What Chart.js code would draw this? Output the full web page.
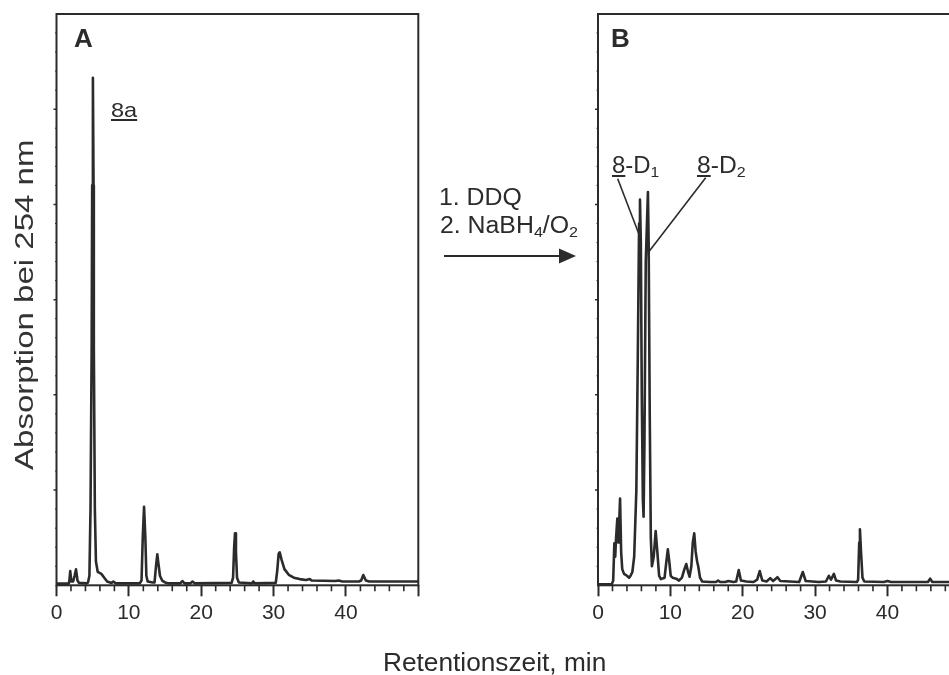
<!DOCTYPE html>
<html>
<head>
<meta charset="utf-8">
<script src="https://cdn.jsdelivr.net/npm/chart.js@4.4.0/dist/chart.umd.min.js"></script>
<style>
  html, body { margin: 0; padding: 0; background: #fff; }
  body { width: 949px; height: 675px; overflow: hidden; position: relative;
         font-family: "Liberation Sans", Arial, sans-serif; color: #2b2b2b; }
  canvas { position: absolute; top: 0; }
  #chartA { left: 0; }
  #chartB { left: 440px; }
  .lbl { position: absolute; white-space: nowrap; line-height: 1; transform-origin: 0 0; }
  .panel { font-weight: bold; font-size: 26px; }
  .u { text-decoration: underline; text-decoration-thickness: 1.5px; text-underline-offset: 2px; }
  sub { font-size: 65%; vertical-align: -0.25em; line-height: 0; }
  #arrow { position: absolute; left: 0; top: 0; pointer-events: none; }
</style>
</head>
<body>
<canvas id="chartA" width="470" height="675"></canvas>
<canvas id="chartB" width="580" height="675"></canvas>

<svg id="arrow" width="949" height="675">
  <line x1="444" y1="256" x2="562" y2="256" stroke="#2b2b2b" stroke-width="2"/>
  <polygon points="559,248.5 576,256 559,263.5" fill="#2b2b2b"/>
</svg>

<div class="lbl panel" style="left:74px;top:25px;">A</div>
<div class="lbl panel" style="left:611px;top:25px;">B</div>
<div class="lbl" style="left:111px;top:99px;font-size:21px;transform:scaleX(1.12);"><span class="u">8a</span></div>
<div class="lbl" style="left:612px;top:154px;font-size:23px;transform:scaleX(1.04);"><span class="u">8</span>-D<sub>1</sub></div>
<div class="lbl" style="left:697px;top:154px;font-size:23px;transform:scaleX(1.07);"><span class="u">8</span>-D<sub>2</sub></div>
<div class="lbl" style="left:439px;top:186px;font-size:23px;transform:scaleX(1.08);">1. DDQ</div>
<div class="lbl" style="left:440px;top:214px;font-size:23px;transform:scaleX(1.08);">2. NaBH<sub>4</sub>/O<sub>2</sub></div>
<div class="lbl" style="left:383px;top:650px;font-size:25px;transform:scaleX(1.05);">Retentionszeit, min</div>
<div class="lbl" style="left:11px;top:470px;font-size:26px;color:#333;transform:rotate(-90deg) scaleX(1.27);">Absorption bei 254 nm</div>

<script>
// HPLC-Chromatogramme: Retentionszeit (min) / Absorption (willk. Einheiten)
const INK = "#2b2b2b";

// A: Ausgangsverbindung 8a
const timeA = [0, 1.7, 1.78, 1.9, 2.05, 2.3, 2.5, 2.7, 2.9, 3.1, 4.2,
  4.35, 4.55, 4.7, 4.86, 4.93, 5.03, 5.12, 5.16, 5.3, 5.45, 5.7, 6.2, 6.6, 7.0, 7.6, 7.85, 8.2,
  11.5, 11.75, 11.92, 12.1, 12.28, 12.42, 12.6, 13.3,
  13.55, 13.75, 13.93, 14.1, 14.3, 14.6, 15.0, 15.5,
  17.1, 17.4, 17.7, 18.5, 18.8, 19.1,
  24.2, 24.4, 24.55, 24.67, 24.8, 24.95, 25.2,
  27.0, 27.2, 27.4,
  30.3, 30.5, 30.7, 30.85, 31.1, 31.5, 32.1, 32.8, 33.6, 34.5, 35.0, 35.3,
  38.5, 39.0, 39.5, 41.8, 42.1, 42.4, 42.75, 43.2, 50];
const absA = [0.018, 0.018, 0.05, 0.15, 0.04, 0.04, 0.1, 0.168, 0.05, 0.025, 0.02,
  0.03, 0.1, 0.8, 2.5, 4.2, 5.33, 4.2, 2.5, 0.8, 0.25, 0.14, 0.12, 0.08, 0.04, 0.025, 0.04, 0.02,
  0.02, 0.05, 0.5, 0.825, 0.5, 0.1, 0.04, 0.03,
  0.03, 0.2, 0.325, 0.22, 0.1, 0.05, 0.03, 0.02,
  0.02, 0.045, 0.02, 0.02, 0.04, 0.02,
  0.025, 0.08, 0.4, 0.546, 0.35, 0.08, 0.03,
  0.02, 0.04, 0.02,
  0.025, 0.15, 0.33, 0.346, 0.27, 0.17, 0.11, 0.08, 0.065, 0.055, 0.065, 0.05,
  0.045, 0.05, 0.04, 0.04, 0.05, 0.108, 0.05, 0.04, 0.04];

// B: nach 1. DDQ, 2. NaBH4/O2
const timeB = [0, 1.9, 2.1, 2.26, 2.38, 2.5, 2.67, 2.8, 2.9, 3.05, 3.2, 3.35, 3.6, 4.0, 4.3, 4.5,
  4.75, 5.0, 5.3, 5.5, 5.68, 5.8, 5.92, 6.05, 6.2, 6.3,
  6.42, 6.6, 6.9, 7.0, 7.15, 7.3, 7.45,
  7.7, 7.97, 8.2, 8.45, 8.7, 9.2, 9.45, 9.65, 9.85, 10.05, 10.3, 10.8, 11.2, 11.6,
  11.9, 12.2, 12.45, 12.65, 12.9, 13.1, 13.3, 13.5, 13.7, 13.85, 14.1, 14.4,
  15.5, 16.3, 16.6, 16.9, 17.6, 18.0, 18.7,
  19.1, 19.45, 19.75, 20.5, 21.5, 22.0, 22.35, 22.7, 23.3, 23.8, 24.2, 24.8, 25.2, 27.8,
  28.3, 28.7, 30.5, 31.5, 31.9, 32.2, 32.6, 32.9, 33.5, 35.8,
  35.95, 36.1, 36.2, 36.35, 36.55, 36.8, 39.5, 40.0, 40.5, 45.6, 45.9, 46.2, 50];
const absB = [0.01, 0.01, 0.05, 0.44, 0.3, 0.5, 0.7, 0.45, 0.6, 0.91, 0.35, 0.17, 0.12, 0.1, 0.08, 0.1,
  0.14, 0.3, 1.0, 2.4, 3.8, 4.05, 3.6, 2.0, 0.9, 0.72,
  1.5, 3.4, 4.13, 3.6, 1.8, 0.5, 0.2,
  0.3, 0.57, 0.35, 0.1, 0.065, 0.08, 0.25, 0.378, 0.25, 0.1, 0.08, 0.07, 0.05, 0.08,
  0.16, 0.224, 0.14, 0.09, 0.2, 0.45, 0.546, 0.35, 0.25, 0.2, 0.08, 0.04,
  0.035, 0.035, 0.05, 0.035, 0.035, 0.045, 0.035,
  0.04, 0.16, 0.05, 0.04, 0.035, 0.06, 0.15, 0.05, 0.04, 0.075, 0.045, 0.085, 0.045, 0.035,
  0.14, 0.045, 0.035, 0.04, 0.1, 0.06, 0.12, 0.05, 0.04, 0.035,
  0.06, 0.45, 0.588, 0.35, 0.08, 0.04, 0.035, 0.045, 0.035, 0.035, 0.07, 0.035, 0.035];

const xMajorTicks = [0, 10, 20, 30, 40, 50];
const xMinorTicks = [2, 4, 6, 8, 12, 14, 16, 18, 22, 24, 26, 28, 32, 34, 36, 38, 42, 44, 46, 48];
const yMajorTicks = [1, 2, 3, 4, 5];
const yMinorTicks = [0.2, 0.4, 0.6, 0.8, 1.2, 1.4, 1.6, 1.8, 2.2, 2.4, 2.6, 2.8, 3.2, 3.4, 3.6, 3.8,
  4.2, 4.4, 4.6, 4.8, 5.2, 5.4, 5.6, 5.8];

// Hinweislinien in B: [x1, y1, x2, y2] in Datenkoordinaten
const leadersB = [[2.72, 4.27, 5.6, 3.70], [14.88, 4.28, 7.0, 3.5]];

const framePlugin = {
  id: "frame",
  afterDraw(chart, args, opts) {
    const { ctx, chartArea: a, scales } = chart;
    const sx = scales.x, sy = scales.y;
    ctx.save();
    ctx.strokeStyle = INK;
    ctx.lineCap = "butt";
    // Rahmen
    ctx.lineWidth = 2;
    ctx.strokeRect(a.left, a.top, a.right - a.left, a.bottom - a.top);
    // kleine x-Ticks
    ctx.lineWidth = 1.6;
    ctx.beginPath();
    xMinorTicks.forEach((v) => {
      const p = sx.getPixelForValue(v);
      ctx.moveTo(p, a.bottom);
      ctx.lineTo(p, a.bottom + 6);
    });
    ctx.stroke();
    // y-Ticks (ohne Beschriftung)
    ctx.lineWidth = 1.5;
    ctx.beginPath();
    yMajorTicks.forEach((v) => {
      const p = sy.getPixelForValue(v);
      ctx.moveTo(a.left, p);
      ctx.lineTo(a.left - 3, p);
    });
    ctx.stroke();
    ctx.lineWidth = 1;
    ctx.beginPath();
    yMinorTicks.forEach((v) => {
      const p = sy.getPixelForValue(v);
      ctx.moveTo(a.left, p);
      ctx.lineTo(a.left - 1.5, p);
    });
    ctx.stroke();
    // Hinweislinien
    ctx.lineWidth = 1.6;
    (opts.leaders || []).forEach((l) => {
      ctx.beginPath();
      ctx.moveTo(sx.getPixelForValue(l[0]), sy.getPixelForValue(l[1]));
      ctx.lineTo(sx.getPixelForValue(l[2]), sy.getPixelForValue(l[3]));
      ctx.stroke();
    });
    ctx.restore();
  },
};

function makeChart(id, times, values, padding, leaders) {
  return new Chart(document.getElementById(id), {
    type: "line",
    data: {
      datasets: [{
        data: times.map((t, i) => ({ x: t, y: values[i] })),
        borderColor: INK,
        borderWidth: 2.6,
        borderJoinStyle: "round",
        pointRadius: 0,
        tension: 0,
        fill: false,
      }],
    },
    options: {
      responsive: false,
      animation: false,
      events: [],
      layout: { padding: padding },
      plugins: { legend: { display: false }, tooltip: { enabled: false }, frame: { leaders: leaders } },
      scales: {
        x: {
          type: "linear",
          min: 0,
          max: 50,
          afterBuildTicks: (s) => { s.ticks = xMajorTicks.map((v) => ({ value: v })); },
          afterFit: (s) => { s.height = 40; },
          ticks: {
            callback: (v) => (v === 50 ? "" : v),
            color: INK,
            font: { family: "'Liberation Sans', Arial, sans-serif", size: 21 },
            padding: 4,
            maxRotation: 0,
            autoSkip: false,
          },
          grid: { drawOnChartArea: false, drawTicks: true, tickLength: 11, tickWidth: 2, tickColor: INK },
          border: { display: false },
        },
        y: { display: false, min: 0, max: 6 },
      },
    },
    plugins: [framePlugin],
  });
}

makeChart("chartA", timeA, absA, { left: 56.5, right: 51.7, top: 14, bottom: 49.7 }, []);
makeChart("chartB", timeB, absB, { left: 158, right: 60.2, top: 14, bottom: 49.7 }, leadersB);
</script>
</body>
</html>
